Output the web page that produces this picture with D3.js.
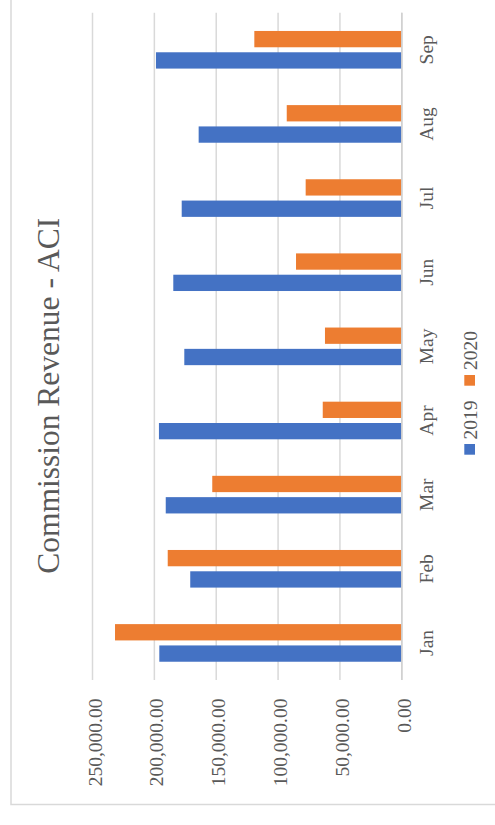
<!DOCTYPE html>
<html>
<head>
<meta charset="utf-8">
<script src="https://cdn.jsdelivr.net/npm/d3@7/dist/d3.min.js"></script>
<style>
  html, body { margin: 0; padding: 0; background: #fff; }
  svg { display: block; }
  text { font-family: "Liberation Serif", "Times New Roman", serif; fill: #595959; }
</style>
</head>
<body>
<svg id="chart" width="495" height="825"></svg>
<script>
// Monthly commission revenue, ACI
const months = ["Jan", "Feb", "Mar", "Apr", "May", "Jun", "Jul", "Aug", "Sep"];
const series = ["2020", "2019"];
const revenue2019 = [196000, 171000, 190800, 196300, 175800, 184700, 177900, 164200, 198700];
const revenue2020 = [231800, 189200, 153200, 63900, 62100, 85500, 77700, 93000, 119200];
const valueTicks = [0, 50000, 100000, 150000, 200000, 250000];
const colors = { "2019": "#4472C4", "2020": "#ED7D31" };

const svg = d3.select("#chart");

// chart-area frame (runs off the top and right edges)
svg.append("rect")
  .attr("x", 11).attr("y", -10)
  .attr("width", 520).attr("height", 814.5)
  .attr("fill", "#fff")
  .attr("stroke", "#d9d9d9").attr("stroke-width", 1.5);

const plotTop = 12.7, plotBottom = 680;
const x = d3.scaleLinear().domain([0, 250000]).range([401.8, 92.5]);
const y = d3.scaleBand().domain(months).range([plotBottom, plotTop])
  .paddingInner(0.4926).paddingOuter(0.2463);
const ySub = d3.scaleBand().domain(series).range([0, y.bandwidth()]).paddingInner(0.235);

// gridlines
svg.append("g").selectAll("line").data(valueTicks).join("line")
  .attr("x1", d => x(d)).attr("x2", d => x(d))
  .attr("y1", plotTop).attr("y2", plotBottom)
  .attr("stroke", "#d9d9d9").attr("stroke-width", 1.5);

// bars
const rows = months.map((m, i) => ({ month: m, "2019": revenue2019[i], "2020": revenue2020[i] }));
const groups = svg.append("g").selectAll("g").data(rows).join("g")
  .attr("transform", d => `translate(0,${y(d.month)})`);
groups.selectAll("rect")
  .data(d => series.map(s => ({ s, v: d[s] })))
  .join("rect")
  .attr("x", d => x(d.v))
  .attr("width", d => x(0) - x(d.v))
  .attr("y", d => ySub(d.s))
  .attr("height", ySub.bandwidth())
  .attr("fill", d => colors[d.s]);

// category baseline
svg.append("line")
  .attr("x1", x(0)).attr("x2", x(0))
  .attr("y1", plotTop).attr("y2", plotBottom)
  .attr("stroke", "#d0d0d0").attr("stroke-width", 1.5);

// value axis labels (rotated)
const valueAxis = d3.axisBottom(x).tickValues(valueTicks)
  .tickFormat(d3.format(",.2f")).tickSize(0);
const va = svg.append("g").attr("transform", "translate(0,698.5)").call(valueAxis);
va.select(".domain").remove();
va.selectAll("text")
  .attr("x", 0).attr("y", 0).attr("dy", null)
  .attr("transform", "translate(8.5,0) rotate(-90)")
  .attr("text-anchor", "end")
  .style("font-family", "'Liberation Serif', serif")
  .style("font-size", "19.5px")
  .attr("fill", "#595959");

// month labels (rotated)
const monthAxis = d3.axisRight(y).tickSize(0);
const ma = svg.append("g").attr("transform", "translate(433,0)").call(monthAxis);
ma.select(".domain").remove();
ma.selectAll("text")
  .attr("x", 0).attr("dy", null)
  .attr("transform", "rotate(-90)")
  .attr("text-anchor", "middle")
  .style("font-family", "'Liberation Serif', serif")
  .style("font-size", "19.5px")
  .attr("fill", "#595959");

// title
svg.append("text")
  .attr("transform", "translate(59,395.8) rotate(-90)")
  .attr("text-anchor", "middle")
  .style("font-size", "31.5px")
  .text("Commission Revenue - ACI");

// legend
const legendItems = [
  { s: "2019", boxY: 444, textY: 439.5 },
  { s: "2020", boxY: 375, textY: 370 }
];
const lg = svg.append("g");
legendItems.forEach(it => {
  lg.append("rect")
    .attr("x", 464.3).attr("y", it.boxY)
    .attr("width", 10.7).attr("height", 10.7)
    .attr("fill", colors[it.s]);
  lg.append("text")
    .attr("transform", `translate(476.7,${it.textY}) rotate(-90)`)
    .attr("text-anchor", "start")
    .style("font-size", "19.5px")
    .text(it.s);
});
</script>
</body>
</html>
